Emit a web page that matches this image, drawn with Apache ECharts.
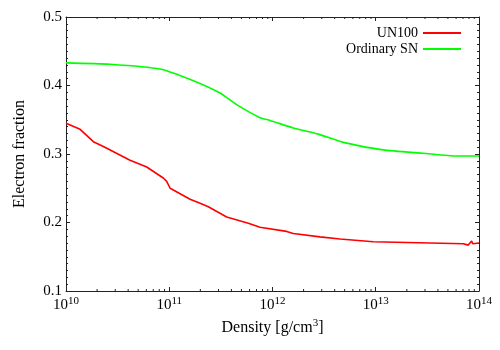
<!DOCTYPE html>
<html>
<head>
<meta charset="utf-8">
<script src="https://cdn.jsdelivr.net/npm/echarts@6/dist/echarts.min.js"></script>
<style>
  html, body { margin: 0; padding: 0; background: #fff; }
  #chart { width: 500px; height: 350px; }
</style>
</head>
<body>
<div id="chart"></div>
<script>
// density [g/cm^3] and electron fraction
const un100Density = [1.0e10, 1.37e10, 1.84e10, 2.30e10, 4.17e10, 6.05e10, 8.75e10, 9.44e10, 1.02e11,
  1.59e11, 1.99e11, 2.39e11, 3.60e11, 5.83e11, 7.57e11, 1.37e12, 1.59e12, 2.88e12, 4.51e12,
  9.46e12, 3.35e13, 3.37e13, 7.05e13, 7.87e13, 8.49e13, 8.69e13, 1.0e14]
const un100Ye = [0.345, 0.336, 0.318, 0.311, 0.291, 0.281, 0.265, 0.260, 0.250,
  0.234, 0.228, 0.223, 0.208, 0.199, 0.193, 0.187, 0.184, 0.179, 0.176,
  0.172, 0.170, 0.172, 0.169, 0.167, 0.173, 0.169, 0.170]

const snDensity = [1.0e10, 2.67e10, 8.13e10, 1.71e11, 3.10e11, 4.50e11, 7.57e11, 9.46e11,
  1.59e12, 2.78e12, 4.85e12, 1.18e13, 2.89e13, 6.08e13, 1.0e14]
const snYe = [0.433, 0.431, 0.424, 0.407, 0.389, 0.372, 0.353, 0.349,
  0.338, 0.329, 0.317, 0.306, 0.301, 0.297, 0.297]

// axis ticks
const decades = [1e10, 1e11, 1e12, 1e13]
const minorSteps = [2, 3, 4, 5, 6, 7, 8, 9]

const FONT = 'Liberation Serif'
const AXIS_COLOR = '#222'

function zip(xs, ys) {
  return xs.map((x, i) => [x, ys[i]])
}

const minorTicks = []
decades.forEach(d => minorSteps.forEach(m => minorTicks.push([d * m, 0.1])))

const chart = echarts.init(document.getElementById('chart'))

const xBase = {
  type: 'log',
  logBase: 10,
  min: 1e10,
  max: 1e14,
  axisLine: { show: true, onZero: false, lineStyle: { color: AXIS_COLOR, width: 1 } },
  axisTick: { show: true, inside: true, length: 4, lineStyle: { color: AXIS_COLOR } },
  splitLine: { show: false }
}
const yBase = {
  type: 'value',
  min: 0.1,
  max: 0.5,
  interval: 0.1,
  axisLine: { show: true, onZero: false, lineStyle: { color: AXIS_COLOR, width: 1 } },
  axisTick: { show: true, inside: true, length: 4, lineStyle: { color: AXIS_COLOR } },
  minorTick: { show: true, splitNumber: 10, length: 2, lineStyle: { color: AXIS_COLOR } },
  splitLine: { show: false }
}

const legendBase = {
  right: 39, orient: 'vertical', align: 'right', padding: 0,
  icon: 'rect', itemWidth: 38, itemHeight: 2,
  textStyle: { fontFamily: FONT, fontSize: 14, color: '#000' }
}

chart.setOption({
  animation: false,
  backgroundColor: '#fff',
  textStyle: { fontFamily: FONT },
  grid: { left: 66, right: 21, top: 17, bottom: 59 },
  legend: [
    Object.assign({ data: ['UN100'], top: 26 }, legendBase),
    Object.assign({ data: ['Ordinary SN'], top: 42 }, legendBase)
  ],
  xAxis: [
    Object.assign({}, xBase, {
      position: 'bottom',
      name: '{t|Density [g/cm}{s|3}{t|]}',
      nameLocation: 'middle',
      nameGap: 26,
      nameTextStyle: {
        rich: {
          t: { fontFamily: FONT, fontSize: 16, color: '#000', lineHeight: 20 },
          s: { fontFamily: FONT, fontSize: 11, color: '#000', verticalAlign: 'top', lineHeight: 20 }
        }
      },
      axisLabel: {
        margin: 5,
        formatter: v => '{b|10}{s|' + Math.round(Math.log10(v)) + '}',
        rich: {
          b: { fontFamily: FONT, fontSize: 15, color: '#000', lineHeight: 19 },
          s: { fontFamily: FONT, fontSize: 11, color: '#000', verticalAlign: 'top', lineHeight: 19 }
        }
      }
    }),
    Object.assign({}, xBase, {
      position: 'top',
      axisLabel: { show: false }
    })
  ],
  yAxis: [
    Object.assign({}, yBase, {
      position: 'left',
      name: 'Electron fraction',
      nameLocation: 'middle',
      nameGap: 38,
      nameTextStyle: { fontFamily: FONT, fontSize: 16, color: '#000' },
      axisLabel: {
        margin: 4,
        fontFamily: FONT,
        fontSize: 15,
        color: '#000',
        formatter: v => v.toFixed(1)
      }
    }),
    Object.assign({}, yBase, {
      position: 'right',
      axisLabel: { show: false }
    })
  ],
  series: [
    {
      name: 'UN100',
      type: 'line',
      data: zip(un100Density, un100Ye),
      showSymbol: false,
      color: '#ff0000',
      lineStyle: { color: '#ff0000', width: 1.6 }
    },
    {
      name: 'Ordinary SN',
      type: 'line',
      data: zip(snDensity, snYe),
      showSymbol: false,
      smooth: 0.2,
      color: '#00ff00',
      lineStyle: { color: '#00ff00', width: 1.6 }
    },
    {
      // log minor ticks (2..9 per decade) on bottom and top axes
      type: 'custom',
      silent: true,
      data: minorTicks,
      renderItem(params, api) {
        const x = api.coord([api.value(0), 0.1])[0]
        const cs = params.coordSys
        const style = { stroke: AXIS_COLOR, lineWidth: 1 }
        return {
          type: 'group',
          children: [
            { type: 'line', shape: { x1: x, y1: cs.y + cs.height, x2: x, y2: cs.y + cs.height - 2 }, style },
            { type: 'line', shape: { x1: x, y1: cs.y, x2: x, y2: cs.y + 2 }, style }
          ]
        }
      }
    }
  ]
})
</script>
</body>
</html>
